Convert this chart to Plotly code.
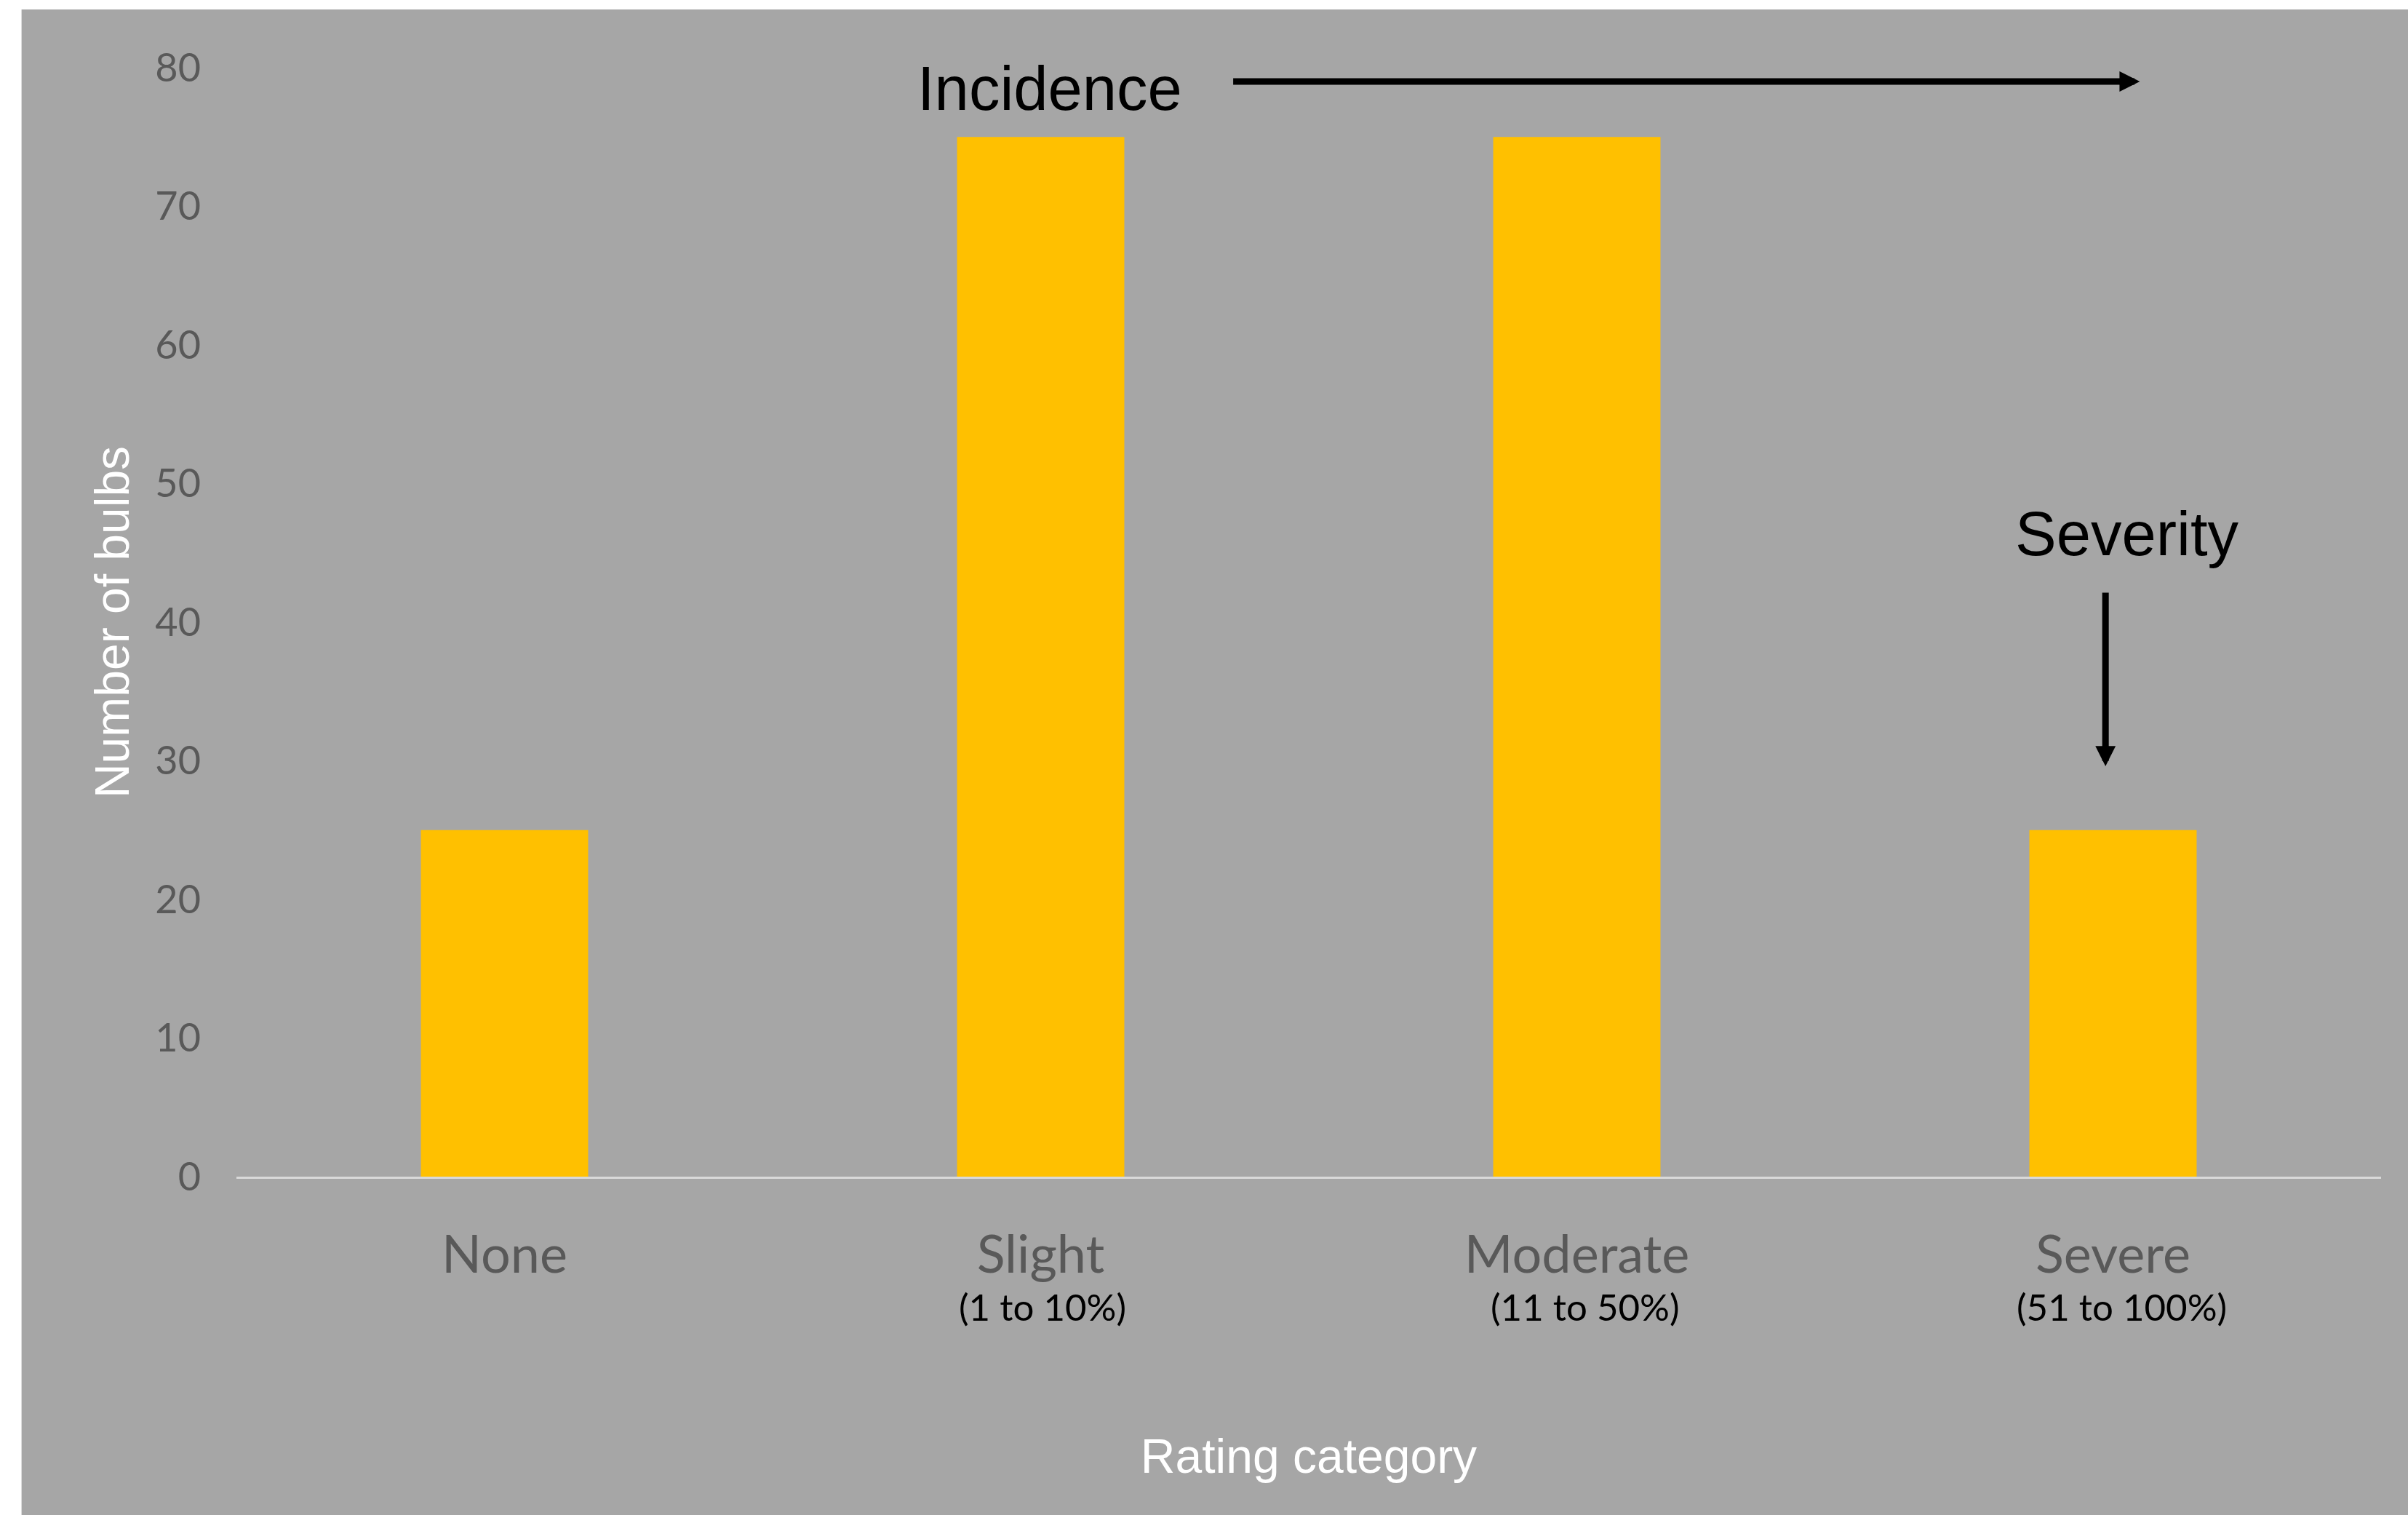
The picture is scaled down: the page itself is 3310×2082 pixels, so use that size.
import plotly.graph_objects as go

# Bulb counts per rating category
categories = ["None", "Slight", "Moderate", "Severe"]
counts = [25, 75, 75, 25]
ranges = ["", "(1 to 10%)", "(11 to 50%)", "(51 to 100%)"]
range_pos = [0, 1.004, 2.016, 3.016]
y_ticks = [0, 10, 20, 30, 40, 50, 60, 70, 80]

GRAY = "#a6a6a6"
BAR = "#ffc000"
TICK = "#595959"

fig = go.Figure()
fig.add_trace(go.Bar(x=categories, y=counts, marker=dict(color=BAR, line=dict(width=0)),
                     hoverinfo="skip"))

annotations = []
# Percentage ranges under the category names
for pos, txt in zip(range_pos, ranges):
    if txt:
        annotations.append(dict(x=pos, y=-0.117, xref="x", yref="paper", text=txt,
                                showarrow=False, xanchor="center", yanchor="middle",
                                font=dict(family="Lato", size=51, color="black")))

# Incidence arrow and label
annotations.append(dict(x=3.05, y=79.0, xref="x", yref="y", ax=1.357, ay=79.0,
                        axref="x", ayref="y", text="", showarrow=True,
                        arrowhead=2, arrowsize=0.62, arrowwidth=9, arrowcolor="black"))
annotations.append(dict(x=1.0176, y=78.5, xref="x", yref="y", text="Incidence",
                        showarrow=False, xanchor="center", yanchor="middle",
                        font=dict(family="Liberation Sans", size=85, color="black")))
# Severity arrow and label
annotations.append(dict(x=2.986, y=29.6, xref="x", yref="y", ax=2.986, ay=42.2,
                        axref="x", ayref="y", text="", showarrow=True,
                        arrowhead=2, arrowsize=0.62, arrowwidth=9, arrowcolor="black"))
annotations.append(dict(x=3.027, y=46.4, xref="x", yref="y", text="Severity",
                        showarrow=False, xanchor="center", yanchor="middle",
                        font=dict(family="Liberation Sans", size=85, color="black")))

fig.update_layout(
    width=3310, height=2082, autosize=False,
    margin=dict(l=325, r=37, t=93, b=465, pad=0),
    paper_bgcolor="white", plot_bgcolor=GRAY,
    bargap=0.688, showlegend=False,
    shapes=[dict(type="rect", xref="paper", yref="paper", x0=-0.1002, x1=1.03,
                 y0=-0.35, y1=1.0525, fillcolor=GRAY, line=dict(width=0), layer="below")],
    annotations=annotations,
    xaxis=dict(
        showgrid=False, zeroline=False, showline=True, linecolor="#d9d9d9", linewidth=3,
        ticks="", ticklabelstandoff=43,
        tickfont=dict(family="Lato", size=72, color=TICK),
        title=dict(text="Rating category", standoff=215,
                   font=dict(family="Liberation Sans", size=66, color="white")),
    ),
    yaxis=dict(
        range=[0, 80], tickvals=y_ticks, showgrid=False, zeroline=False, showline=False,
        ticks="", ticklabelstandoff=48,
        tickfont=dict(family="Lato", size=54, color=TICK),
        title=dict(text="Number of bulbs", standoff=14,
                   font=dict(family="Liberation Sans", size=66, color="white")),
    ),
)

fig.write_html("out.html")
